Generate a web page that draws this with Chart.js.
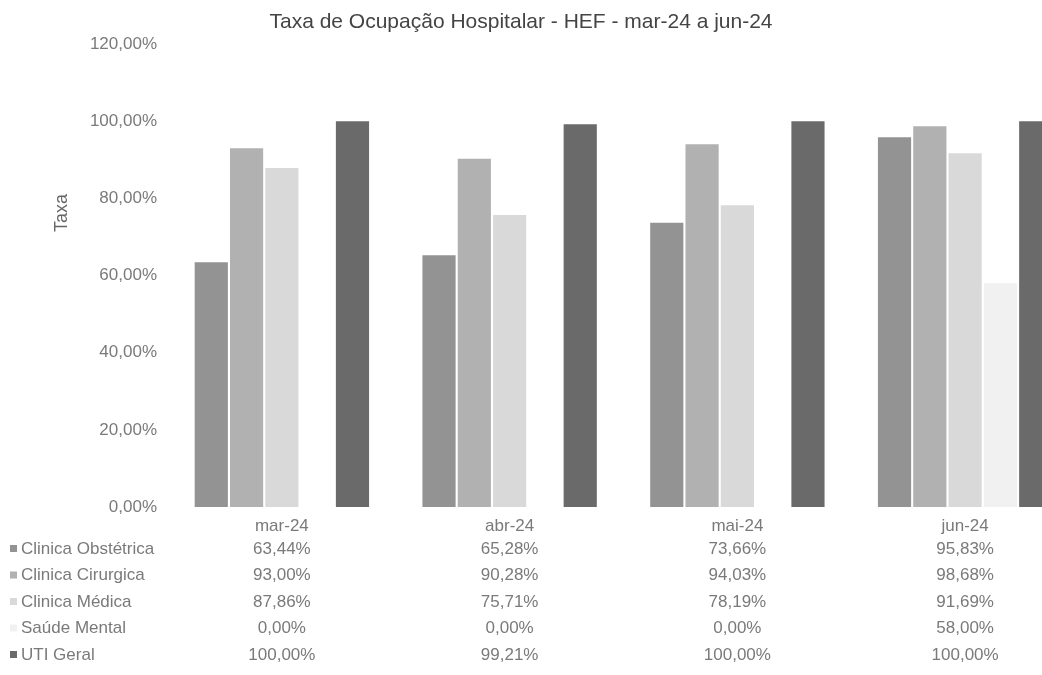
<!DOCTYPE html>
<html>
<head>
<meta charset="utf-8">
<title>Taxa de Ocupação Hospitalar</title>
<script src="https://cdn.jsdelivr.net/npm/chart.js@4.4.1/dist/chart.umd.min.js"></script>
<style>
  html, body { margin: 0; padding: 0; background: #fff; overflow: hidden; }
  #chart { position: absolute; left: 0; top: 0; }
</style>
</head>
<body>
<canvas id="chart" width="1082" height="675"></canvas>
<script>
const categories = ["mar-24", "abr-24", "mai-24", "jun-24"];
const obstetrica = [63.44, 65.28, 73.66, 95.83];
const cirurgica = [93.0, 90.28, 94.03, 98.68];
const medica = [87.86, 75.71, 78.19, 91.69];
const saudeMental = [0.0, 0.0, 0.0, 58.0];
const utiGeral = [100.0, 99.21, 100.0, 100.0];

const seriesNames = ["Clinica Obstétrica", "Clinica Cirurgica", "Clinica Médica", "Saúde Mental", "UTI Geral"];
const seriesColors = ["#939393", "#b1b1b1", "#d9d9d9", "#f1f1f1", "#6a6a6a"];

const FONT = "'Liberation Sans', Arial, sans-serif";
const TEXT = "#7a7a7a";

const fmt = (v) => v.toFixed(2).replace(".", ",") + "%";

// title, axis title and the data table under the x axis
const tablePlugin = {
  id: "tablePlugin",
  afterDraw: (chart) => {
    const ctx = chart.ctx;
    const xScale = chart.scales.x;
    ctx.save();

    ctx.fillStyle = "#444";
    ctx.font = "21px " + FONT;
    ctx.textAlign = "center";
    ctx.textBaseline = "middle";
    ctx.fillText("Taxa de Ocupação Hospitalar - HEF - mar-24 a jun-24", 521, 22);

    ctx.save();
    ctx.translate(62, 213);
    ctx.rotate(-Math.PI / 2);
    ctx.fillStyle = "#666";
    ctx.font = "18px " + FONT;
    ctx.fillText("Taxa", 0, 0);
    ctx.restore();

    ctx.font = "17px " + FONT;
    chart.data.datasets.forEach((ds, i) => {
      const y = 549 + i * 26.5;
      ctx.fillStyle = ds.backgroundColor;
      ctx.fillRect(10, y - 4, 7, 7);
      ctx.fillStyle = TEXT;
      ctx.textAlign = "left";
      ctx.fillText(ds.label, 21, y);
      ctx.textAlign = "center";
      ds.data.forEach((v, j) => {
        ctx.fillText(fmt(v), xScale.getPixelForValue(j), y);
      });
    });
    ctx.restore();
  },
};

const seriesData = [obstetrica, cirurgica, medica, saudeMental, utiGeral];

new Chart(document.getElementById("chart").getContext("2d"), {
  type: "bar",
  data: {
    labels: categories,
    datasets: seriesData.map((d, i) => ({
      label: seriesNames[i],
      data: d,
      backgroundColor: seriesColors[i],
      borderWidth: 0,
      categoryPercentage: 0.775,
      barPercentage: 0.94,
    })),
  },
  plugins: [tablePlugin],
  options: {
    responsive: false,
    animation: false,
    layout: { padding: { top: 44, right: 3, bottom: 135, left: 0 } },
    plugins: {
      legend: { display: false },
      title: { display: false },
      tooltip: { enabled: false },
    },
    scales: {
      x: {
        grid: { display: false, drawTicks: false },
        border: { display: false },
        ticks: { color: TEXT, font: { size: 17, family: FONT }, padding: 9 },
        afterFit: (scale) => {
          scale.height = 33;
        },
      },
      y: {
        min: 0,
        max: 120,
        grid: { display: false, drawTicks: false },
        border: { display: false },
        ticks: {
          stepSize: 20,
          color: TEXT,
          font: { size: 17, family: FONT },
          padding: 11,
          callback: (value) => fmt(value),
        },
        afterFit: (scale) => {
          scale.width = 168;
        },
      },
    },
  },
});
</script>
</body>
</html>
